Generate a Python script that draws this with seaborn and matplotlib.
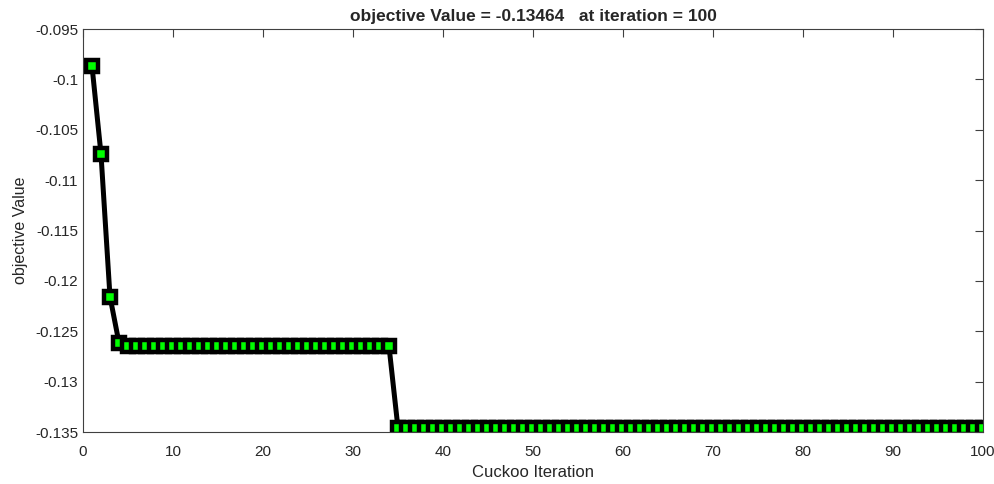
import numpy as np
import pandas as pd
import seaborn as sns
import matplotlib.pyplot as plt

# best objective value per cuckoo iteration
iterations = list(range(1, 101))
start_values = [-0.09865, -0.10740, -0.12155, -0.12615]
plateau_value = -0.12650   # iterations 5..34
final_value = -0.13464     # iterations 35..100
values = start_values + [plateau_value] * 30 + [final_value] * 66

df = pd.DataFrame({"iter": iterations, "obj": values})

sns.set_style("white")
plt.rcParams["font.family"] = ["Liberation Sans", "DejaVu Sans"]

fig = plt.figure(figsize=(9.95, 4.84), dpi=100)
ax = fig.add_axes([0.0834, 0.1074, 0.9046, 0.8326])

sns.lineplot(data=df, x="iter", y="obj", ax=ax, color="black", linewidth=3.6,
             marker="s", markersize=8.0, markerfacecolor="#00ff00",
             markeredgecolor="black", markeredgewidth=3.2)

ax.set_xlim(0, 100)
ax.set_ylim(-0.135, -0.095)
ax.set_xticks(np.arange(0, 101, 10))
ax.set_yticks(np.arange(-0.135, -0.0949, 0.005))
ax.set_yticklabels(["-0.135", "-0.13", "-0.125", "-0.12", "-0.115",
                    "-0.11", "-0.105", "-0.1", "-0.095"])
ax.tick_params(direction="in", length=6, width=0.8, colors="#404040",
               labelcolor="#262626", labelsize=11, top=True, right=True)
ax.tick_params(axis="x", pad=9)
for s in ax.spines.values():
    s.set_color("#404040")
    s.set_linewidth(0.8)
ax.set_xlabel("Cuckoo Iteration", fontsize=12, color="#262626", labelpad=5)
ax.set_ylabel("objective Value", fontsize=11.5, color="#262626", labelpad=5)
ax.set_title("objective Value = -0.13464   at iteration = 100",
             fontsize=12.5, fontweight="bold", pad=6)

fig.savefig("out.png", dpi=100)
